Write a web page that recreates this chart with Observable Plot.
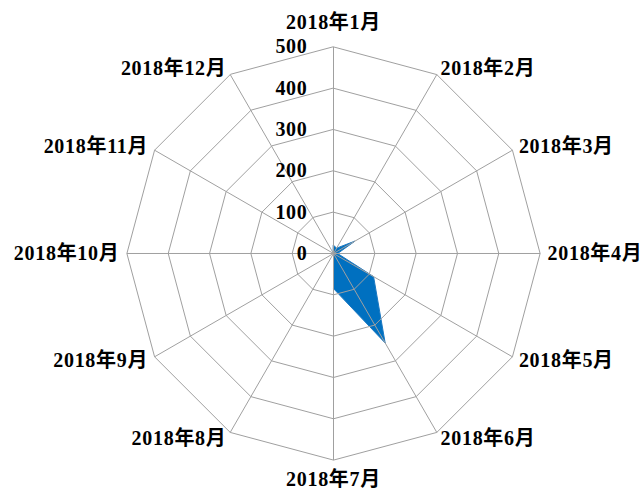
<!DOCTYPE html>
<html>
<head>
<meta charset="utf-8">
<script src="https://cdn.jsdelivr.net/npm/d3@7"></script>
<script src="https://cdn.jsdelivr.net/npm/@observablehq/plot@0.6"></script>
<style>
  html, body { margin: 0; padding: 0; background: #fff; }
  #chart text { font-family: "Liberation Serif", "Times New Roman", "Noto Sans CJK SC", serif; font-weight: bold; letter-spacing: 0.7px; }
</style>
</head>
<body>
<div id="chart"></div>
<script>
const months = ["2018年1月","2018年2月","2018年3月","2018年4月","2018年5月","2018年6月",
                "2018年7月","2018年8月","2018年9月","2018年10月","2018年11月","2018年12月"];
const values = [20, 15, 60, 10, 112, 250, 85, 0, 0, 0, 0, 0];
const ticks = [0, 100, 200, 300, 400, 500];
const rMax = 500;
const labelR = 518;

const n = months.length;
const ang = i => i * 2 * Math.PI / n;
const px = (i, v) => Math.sin(ang(i)) * v;
const py = (i, v) => Math.cos(ang(i)) * v;

const rings = ticks.filter(t => t > 0).flatMap(t => months.map((m, i) => ({t, i})));
const series = values.map((v, i) => ({i, v}));
const labels = months.map((m, i) => ({m, i}));

function anchor(i) {
  if (i === 0 || i === 6) return "middle";
  return i < 6 ? "start" : "end";
}
function dyOf(i) {
  if (i === 0) return -17;
  if (i === 6) return 12;
  return 0;
}

const chart = Plot.plot({
  width: 643,
  height: 491,
  margin: 0,
  x: {domain: [-805.9, 750.2], range: [0, 643], axis: null},
  y: {domain: [-576, 612.3], range: [491, 0], axis: null},
  marks: [
    Plot.line(series, {
      x: d => px(d.i, d.v), y: d => py(d.i, d.v),
      curve: "linear-closed", fill: "#0070c0", stroke: "#1a78c2", strokeWidth: 1
    }),
    Plot.line(rings, {
      x: d => px(d.i, d.t), y: d => py(d.i, d.t), z: "t",
      curve: "linear-closed", stroke: "#a0a0a0", strokeWidth: 1
    }),
    Plot.link(labels, {
      x1: () => 0, y1: () => 0,
      x2: d => px(d.i, rMax), y2: d => py(d.i, rMax),
      stroke: "#a0a0a0", strokeWidth: 1
    }),
    ...[0,1,2,3,4,5,6,7,8,9,10,11].map(k => Plot.text(labels.filter(d => d.i === k), {
      x: d => px(d.i, labelR), y: d => py(d.i, labelR),
      text: "m", textAnchor: anchor(k), dy: dyOf(k),
      fontSize: 20, fill: "#000"
    })),
    Plot.text(ticks, {
      x: () => 0, y: d => d, text: d => String(d),
      textAnchor: "end", dx: -26, fontSize: 20, fill: "#000"
    })
  ]
});
document.getElementById("chart").appendChild(chart);
</script>
</body>
</html>
